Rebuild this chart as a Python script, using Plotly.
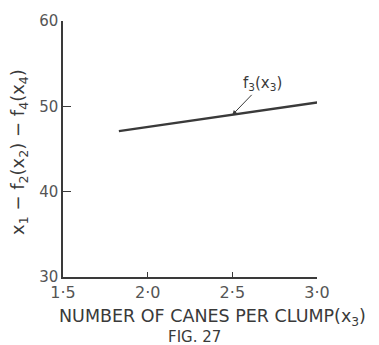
import plotly.graph_objects as go

# Data
x3 = [1.83, 3.02]
f3 = [47.1, 50.5]
x_ticks = [1.5, 2.0, 2.5, 3.0]
x_ticktext = ["1·5", "2·0", "2·5", "3·0"]
y_ticks = [30, 40, 50, 60]
y_ticktext = ["30", "40", "50", "60"]
label_x, label_y = 2.5, 49.0

ink = "#3a3a3a"
font = "DejaVu Sans"

L, R, T, B = 63, 62, 21, 68
W, H = 379, 345
pw, ph = W - L - R, H - T - B


def px(x):
    return (x - L) / pw


def py(y):
    return (H - y - B) / ph


fig = go.Figure()
fig.add_trace(go.Scatter(x=x3, y=f3, mode="lines",
                         line=dict(color=ink, width=2.4), showlegend=False,
                         hoverinfo="skip"))

fig.add_annotation(x=label_x, y=label_y, xref="x", yref="y",
                   text="f<sub>3</sub>(x<sub>3</sub>)", showarrow=True,
                   ax=30, ay=-31, arrowhead=2, arrowsize=0.9, arrowwidth=1,
                   arrowcolor=ink, font=dict(family=font, size=15, color=ink))

fig.add_annotation(x=px(212), y=py(317), xref="paper", yref="paper",
                   xanchor="center", yanchor="middle",
                   text="NUMBER OF CANES PER CLUMP(x<sub>3</sub>)", showarrow=False,
                   font=dict(family=font, size=17.5, color=ink))
fig.add_annotation(x=px(194), y=py(337), xref="paper", yref="paper",
                   xanchor="center", yanchor="middle",
                   text="FIG. 27", showarrow=False,
                   font=dict(family=font, size=15, color=ink))
fig.add_annotation(x=px(19), y=py(152), xref="paper", yref="paper",
                   xanchor="center", yanchor="middle",
                   text="x<sub>1</sub> − f<sub>2</sub>(x<sub>2</sub>) − f<sub>4</sub>(x<sub>4</sub>)",
                   textangle=-90, showarrow=False,
                   font=dict(family=font, size=18, color=ink))

fig.update_xaxes(range=[1.5, 3.0], tickvals=x_ticks, ticktext=x_ticktext,
                 ticks="inside", ticklen=5, tickwidth=1, tickcolor=ink,
                 showline=True, linecolor=ink, linewidth=1.5,
                 showgrid=False, zeroline=False,
                 tickfont=dict(family=font, size=16, color="#555"))
fig.update_yaxes(range=[30, 60], tickvals=y_ticks, ticktext=y_ticktext,
                 ticks="inside", ticklen=8, tickwidth=1, tickcolor=ink,
                 showline=True, linecolor=ink, linewidth=1.5,
                 showgrid=False, zeroline=False,
                 tickfont=dict(family=font, size=15, color="#555"))

fig.update_layout(width=W, height=H, margin=dict(l=L, r=R, t=T, b=B),
                  plot_bgcolor="white", paper_bgcolor="white")

fig.write_html("out.html")
